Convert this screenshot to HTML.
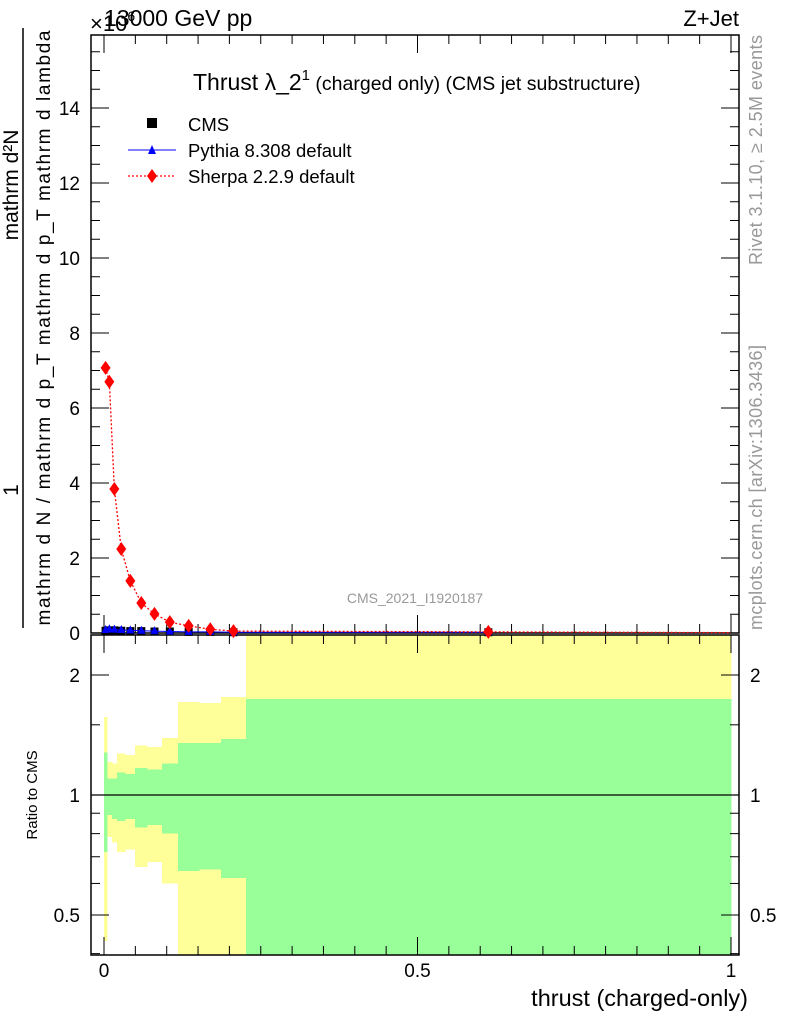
<!DOCTYPE html>
<html><head><meta charset="utf-8"><style>
body{margin:0;background:#fff}
svg{display:block;font-family:"Liberation Sans",sans-serif}
</style></head><body>
<svg id="c" width="786" height="1024" viewBox="0 0 786 1024"></svg>
<script>
const edges=[0,0.005,0.012,0.021,0.034,0.050,0.069,0.092,0.118,0.152,0.187,0.226,1.0];
const sherpaVals=[7.07,6.7,3.84,2.24,1.39,0.8,0.51,0.29,0.19,0.1,0.05,0.03];
const cmsVals=[0.06,0.07,0.07,0.06,0.05,0.05,0.04,0.04,0.03,0.03,0.02,0.02];
const pythiaVals=[0.08,0.1,0.09,0.08,0.07,0.06,0.05,0.04,0.03,0.03,0.02,0.02];
const yellowHi=[1.57,1.21,1.20,1.27,1.26,1.33,1.32,1.39,1.71,1.70,1.76,3.0];
const greenHi=[1.28,1.10,1.10,1.14,1.13,1.17,1.16,1.20,1.35,1.35,1.38,1.74];
const greenLo=[0.72,0.89,0.87,0.86,0.87,0.83,0.84,0.80,0.645,0.65,0.62,0.3];
const yellowLo=[0.43,0.785,0.76,0.72,0.73,0.66,0.68,0.60,0.3,0.3,0.3,0.3];
const mainTicks=[0,2,4,6,8,10,12,14];
const ratioTicks=[0.5,1,2];
const xTicks=[0,0.5,1];

const NS="http://www.w3.org/2000/svg",svg=document.getElementById('c');
function el(t,a,p){const e=document.createElementNS(NS,t);for(const k in a)e.setAttribute(k,a[k]);(p||svg).appendChild(e);return e;}
const L=91,R=739,T=35,MB=633,RT=635,RB=955;
const X=v=>104+v*627;
const Y=v=>633-v*37.5;
const YR=r=>795-120*Math.log2(r);
const cl=(y)=>Math.max(RT,Math.min(RB,y));

const bands=el('g',{'shape-rendering':'crispEdges'});


for(let i=0;i<edges.length-1;i++){
  const x0=Math.round(X(edges[i])),x1=Math.round(X(edges[i+1]))+0.6;
  let a=cl(YR(yellowHi[i])),b=cl(YR(yellowLo[i]));
  const yb=el('rect',{x:x0,y:a,width:x1-x0,height:b-a,fill:'#ffff99'},bands);
  
  
}
for(let i=0;i<edges.length-1;i++){
  const x0=Math.round(X(edges[i])),x1=Math.round(X(edges[i+1]))+0.6;
  const a=cl(YR(greenHi[i])),b=cl(YR(greenLo[i]));
  const gb=el('rect',{x:x0,y:a,width:x1-x0,height:b-a,fill:'#99ff99'},bands);
  
  
}
el('line',{x1:L,x2:R,y1:YR(1),y2:YR(1),stroke:'#000','stroke-width':1.2});

el('rect',{x:L,y:T,width:R-L,height:MB-T,fill:'none',stroke:'#000','stroke-width':1.5});
el('rect',{x:L,y:RT,width:R-L,height:RB-RT,fill:'none',stroke:'#000','stroke-width':1.5});

for(let v=0;v<=15.9;v+=0.5){
  const y=Y(v),maj=Math.abs(v-Math.round(v/2)*2)<1e-6;
  const w=maj?18:9;
  el('line',{x1:L,x2:L+w,y1:y,y2:y,stroke:'#000','stroke-width':1});
  el('line',{x1:R,x2:R-w,y1:y,y2:y,stroke:'#000','stroke-width':1});
}
mainTicks.forEach(v=>{
  const t=el('text',{x:80,y:Y(v)+7,'font-size':19,'text-anchor':'end'});t.textContent=v;
  
  
});
for(let v=0;v<=1.0001;v+=0.05){
  const x=X(v),maj=Math.abs(v*2-Math.round(v*2))<1e-6,h=maj?18:9;
  [[MB,-1],[T,1],[RB,-1],[RT,1]].forEach(([y0,d])=>el('line',{x1:x,x2:x,y1:y0,y2:y0+d*h,stroke:'#000','stroke-width':1}));
}
xTicks.forEach(v=>{
  const t=el('text',{x:X(v),y:977,'font-size':19,'text-anchor':'middle'});t.textContent=v;
  
  
});
[0.4,0.5,0.6,0.7,0.8,0.9,1,1.5,2].forEach(r=>{
  const y=YR(r),maj=[0.5,1,2].includes(r),w=maj?18:9;
  el('line',{x1:L,x2:L+w,y1:y,y2:y,stroke:'#000','stroke-width':1});
  el('line',{x1:R,x2:R-w,y1:y,y2:y,stroke:'#000','stroke-width':1});
});
ratioTicks.forEach(r=>{
  const t=el('text',{x:80,y:YR(r)+7,'font-size':19,'text-anchor':'end'});t.textContent=r;
  
  
  const t2=el('text',{x:750,y:YR(r)+7,'font-size':19});t2.textContent=r;
  
  
});

const ctr=i=>(edges[i]+edges[i+1])/2;
const cmsG=el('g',{});


cmsVals.forEach((v,i)=>{const m=el('rect',{x:X(ctr(i))-4,y:Y(v)-4,width:8,height:8,fill:'#000'},cmsG);
  
  });
const py=el('polyline',{points:pythiaVals.map((v,i)=>X(ctr(i))+','+Y(v)).join(' '),fill:'none',stroke:'#00f','stroke-width':1});


pythiaVals.forEach((v,i)=>{const x=X(ctr(i)),y=Y(v);const m=el('polygon',{points:`${x-4},${y+3} ${x+4},${y+3} ${x},${y-5}`,fill:'#00f'});
  
  });
const sh=el('polyline',{points:sherpaVals.map((v,i)=>X(ctr(i))+','+Y(v)).join(' ')+' '+X(1)+','+Y(0.01),fill:'none',stroke:'#f00','stroke-width':1.3,'stroke-dasharray':'2,2'});


sherpaVals.forEach((v,i)=>{const x=X(ctr(i)),y=Y(v);const m=el('polygon',{points:`${x},${y-7} ${x+5},${y} ${x},${y+7} ${x-5},${y}`,fill:'#f00'});
  
  });

el('rect',{x:147,y:118,width:10,height:10,fill:'#000'});
el('line',{x1:128,x2:176,y1:150,y2:150,stroke:'#00f','stroke-width':1});
el('polygon',{points:'148,154 156,154 152,145',fill:'#00f'});
el('line',{x1:128,x2:176,y1:176,y2:176,stroke:'#f00','stroke-width':1.3,'stroke-dasharray':'2,2'});
el('polygon',{points:'152,169 157,176 152,183 147,176',fill:'#f00'});
function txt(s,a,name){const t=el('text',a);t.textContent=s;return t;}
txt('CMS',{x:188,y:131,'font-size':18.5},'legend-cms');
txt('Pythia 8.308 default',{x:188,y:157,'font-size':18.5},'legend-pythia');
txt('Sherpa 2.2.9 default',{x:188,y:183,'font-size':18.5},'legend-sherpa');

const title=txt('',{x:193,y:90,'font-size':23},'plot-title');
title.innerHTML='Thrust λ_2<tspan font-size="15" dy="-10">1</tspan><tspan font-size="19.5" dy="10"> (charged only) (CMS jet substructure)</tspan>';
txt('13000 GeV pp',{x:104,y:26,'font-size':23},'energy-label');
const ex=txt('',{x:90,y:31,'font-size':22},'exponent-label');ex.innerHTML='×10<tspan font-size="14" dy="-10">6</tspan>';
txt('Z+Jet',{x:739,y:26,'font-size':22,'text-anchor':'end'},'process-label');
txt('CMS_2021_I1920187',{x:415,y:603,'font-size':14,fill:'#999','text-anchor':'middle'},'analysis-label');
txt('Rivet 3.1.10, ≥ 2.5M events',{x:0,y:0,'font-size':18,fill:'#999',transform:'translate(762,265) rotate(-90)',textLength:230},'rivet-label');
txt('mcplots.cern.ch [arXiv:1306.3436]',{x:0,y:0,'font-size':18,fill:'#999',transform:'translate(762,630) rotate(-90)',textLength:285},'mcplots-label');
txt('thrust (charged-only)',{x:748,y:1006,'font-size':23.5,'text-anchor':'end'},'x-axis-title');
txt('Ratio to CMS',{x:0,y:0,'font-size':15,'text-anchor':'middle',transform:'translate(37,795) rotate(-90)'},'ratio-axis-title');
txt('1',{x:0,y:0,'font-size':21,'text-anchor':'middle',transform:'translate(18,490) rotate(-90)'},'y-title-one');
txt('mathrm d²N',{x:0,y:0,'font-size':21,'text-anchor':'middle',transform:'translate(18,185) rotate(-90)'},'y-title-dn');
el('line',{x1:23,x2:23,y1:628,y2:28,stroke:'#000','stroke-width':1.5});
txt('mathrm d N / mathrm d p_T mathrm d p_T mathrm d lambda',{x:0,y:0,'font-size':19,'text-anchor':'middle',transform:'translate(50,328) rotate(-90)',textLength:595},'y-title-denominator');
</script>
</body></html>
